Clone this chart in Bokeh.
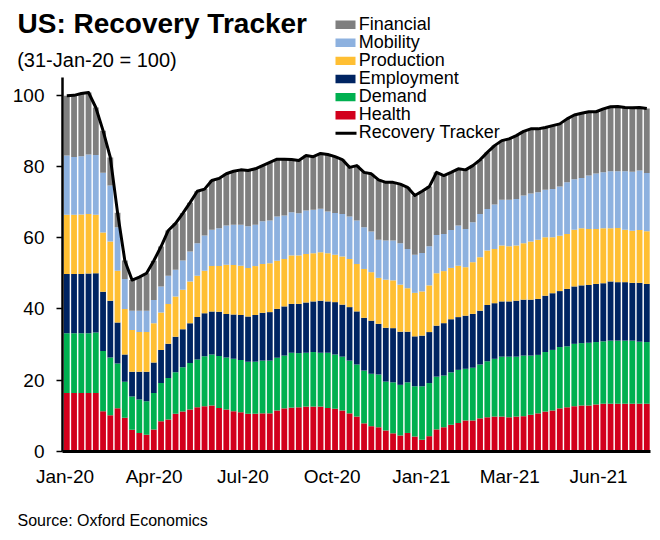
from bokeh.plotting import figure
from bokeh.models import ColumnDataSource, Label, BoxAnnotation, FixedTicker, Range1d
from bokeh.embed import file_html
from bokeh.resources import INLINE

health = [16.4, 16.4, 16.4, 16.4, 16.4, 11.3, 10.2, 12.1, 9.5, 6.1, 5.2, 4.7, 6.2, 8.5, 9.0, 10.6, 11.2, 11.8, 12.4, 12.7,
          12.9, 12.2, 11.8, 11.3, 11.0, 10.6, 10.6, 10.7, 10.7, 11.5, 12.1, 12.3, 12.4, 12.6, 12.6, 12.6, 12.2, 12.0, 11.5, 10.7,
          9.8, 7.9, 7.1, 6.8, 5.9, 5.1, 4.5, 5.2, 4.2, 3.3, 4.3, 6.2, 6.8, 7.5, 8.0, 8.7, 8.7, 9.3, 9.6, 9.8,
          9.8, 9.6, 9.8, 9.9, 10.3, 10.7, 11.2, 11.5, 12.1, 12.4, 12.7, 12.9, 12.9, 13.2, 13.4, 13.4, 13.4, 13.4, 13.4, 13.4, 13.4]
demand = [16.8, 16.8, 16.8, 16.8, 17.0, 16.9, 16.2, 12.6, 10.1, 9.3, 9.4, 9.4, 10.2, 10.7, 11.6, 11.6, 12.4, 13.0, 13.4, 14.0,
          14.3, 14.6, 14.6, 14.7, 14.7, 14.6, 14.6, 14.8, 14.8, 14.8, 14.8, 15.4, 15.2, 15.1, 15.3, 15.1, 15.5, 15.2, 15.1, 14.8,
          14.6, 14.8, 14.7, 14.8, 13.7, 14.3, 14.2, 14.2, 14.1, 15.0, 14.9, 14.8, 14.5, 14.7, 14.9, 14.5, 14.8, 15.1, 15.7, 16.2,
          16.8, 17.0, 16.8, 17.0, 16.6, 16.4, 16.7, 17.0, 17.2, 17.1, 17.5, 17.5, 17.6, 17.5, 17.5, 17.7, 17.7, 17.7, 17.7, 17.4, 17.3]
employment = [16.6, 16.6, 16.6, 16.7, 16.6, 16.6, 15.9, 11.5, 7.6, 7.0, 7.8, 8.3, 8.6, 9.3, 9.6, 10.0, 10.7, 11.2, 11.9, 12.1,
              12.1, 12.4, 12.2, 12.4, 12.6, 12.7, 13.1, 13.4, 13.6, 13.7, 13.8, 13.7, 13.8, 14.1, 14.2, 14.6, 14.4, 14.7, 14.6, 15.0,
              14.9, 14.8, 14.9, 14.2, 15.1, 15.2, 14.9, 14.2, 14.0, 14.2, 14.3, 14.3, 14.7, 14.9, 14.8, 14.9, 15.1, 15.1, 15.8, 15.6,
              15.5, 15.5, 15.7, 15.7, 15.7, 15.7, 15.8, 15.9, 15.7, 16.1, 16.1, 16.2, 16.2, 16.3, 16.3, 16.6, 16.4, 16.4, 16.2, 16.5, 16.3]
production = [16.6, 16.6, 16.7, 16.7, 16.4, 16.6, 16.6, 14.5, 12.8, 11.7, 11.1, 11.1, 11.0, 10.5, 11.2, 11.3, 11.1, 11.7, 11.6, 11.9,
              12.7, 12.8, 13.8, 13.9, 13.8, 13.6, 13.7, 13.7, 13.7, 13.5, 13.3, 13.6, 13.6, 13.6, 13.5, 13.6, 13.5, 13.3, 13.5, 13.5,
              13.3, 13.7, 13.6, 12.9, 13.5, 13.4, 13.2, 12.2, 12.2, 12.4, 13.1, 14.7, 14.6, 14.4, 14.4, 13.6, 14.5, 15.0, 15.3, 15.2,
              15.7, 15.5, 15.5, 15.8, 16.3, 16.6, 16.4, 15.7, 15.5, 15.4, 15.9, 16.0, 15.7, 15.4, 15.4, 14.9, 15.2, 14.7, 14.6, 14.8, 14.8]
mobility = [16.6, 16.2, 16.3, 16.7, 16.8, 16.8, 15.7, 12.2, 8.4, 5.4, 6.0, 6.0, 6.5, 7.3, 7.9, 7.5, 8.2, 8.4, 9.1, 9.9,
            10.2, 10.6, 11.0, 11.3, 11.5, 11.7, 11.6, 12.0, 12.0, 12.4, 12.2, 12.1, 11.8, 12.2, 12.2, 12.2, 11.7, 11.7, 11.9, 11.9,
            12.2, 11.7, 11.4, 10.7, 11.0, 11.2, 11.6, 11.0, 10.7, 10.8, 11.0, 10.7, 10.4, 10.6, 11.3, 10.7, 11.2, 12.1, 11.6, 12.5,
            12.8, 13.0, 13.0, 13.4, 13.5, 13.3, 13.3, 13.5, 13.8, 14.5, 14.2, 14.1, 15.0, 15.6, 15.7, 16.0, 15.9, 16.4, 16.6, 16.7, 16.3]
financial = [16.8, 17.3, 17.6, 17.4, 13.3, 11.8, 7.9, 4.1, 5.2, 8.6, 9.4, 10.5, 11.0, 11.2, 12.7, 13.0, 13.2, 13.7, 14.6, 13.0,
             13.8, 14.0, 14.5, 15.0, 15.4, 15.6, 15.7, 15.6, 16.3, 16.1, 15.8, 14.8, 14.8, 15.4, 14.9, 15.5, 16.0, 15.8, 15.3, 13.8,
             15.4, 15.4, 16.2, 16.8, 16.3, 16.3, 16.6, 17.3, 16.6, 17.3, 16.7, 17.6, 16.4, 16.2, 15.9, 16.6, 15.9, 15.2, 15.9, 16.5,
             16.6, 17.1, 17.8, 18.0, 18.1, 17.8, 17.5, 17.8, 17.6, 17.8, 18.0, 18.2, 17.9, 17.3, 17.8, 18.1, 18.2, 17.9, 17.9, 17.7, 18.1]
tracker = [99.8, 99.9, 100.4, 100.7, 96.5, 90.0, 82.5, 67.0, 53.6, 48.1, 48.9, 50.0, 53.5, 57.5, 62.0, 64.0, 66.8, 69.8, 73.0, 73.6,
           76.0, 76.6, 77.9, 78.6, 79.0, 78.8, 79.3, 80.2, 81.1, 82.0, 82.0, 81.9, 81.6, 83.0, 82.7, 83.6, 83.3, 82.7, 81.9, 79.7,
           80.2, 78.3, 77.9, 76.2, 75.5, 75.5, 75.0, 74.1, 71.8, 73.0, 74.3, 78.3, 77.4, 78.3, 79.3, 79.0, 80.2, 81.8, 83.9, 85.8,
           87.2, 87.7, 88.6, 89.8, 90.5, 90.5, 90.9, 91.4, 91.9, 93.3, 94.4, 94.9, 95.3, 95.3, 96.1, 96.7, 96.8, 96.5, 96.4, 96.5, 96.2]

series_names = ["Health", "Demand", "Employment", "Production", "Mobility", "Financial"]
series_colors = ["#D2001C", "#00B050", "#002462", "#FFBF33", "#8DB1DF", "#7F7F7F"]
tick_pos = [-0.25, 12.05, 24.3, 36.6, 48.9, 61.1, 73.35]
tick_labels = ["Jan-20", "Apr-20", "Jul-20", "Oct-20", "Jan-21", "Mar-21", "Jun-21"]
y_ticks = [0, 20, 40, 60, 80, 100]

FONT = "Liberation Sans"
W, H = 652, 532
# page-pixel geometry of the plotting area
X0PX, DXPX = 66.3, 7.25        # centre of first bar, bar pitch
Y0PX, DYPX = 451.0, 3.565      # y of value 0, pixels per unit
AXL_PX, AXR_PX = 62.0, 650.0   # x-axis line extent

def px_to_x(px):
    return (px - X0PX) / DXPX

def px_to_y(py):
    return (Y0PX - py) / DYPX

x = list(range(len(health)))
src = ColumnDataSource(dict(x=x, Health=health, Demand=demand, Employment=employment,
                            Production=production, Mobility=mobility, Financial=financial,
                            Tracker=tracker))

p = figure(width=W, height=H, output_backend="svg", toolbar_location=None,
           x_range=Range1d(px_to_x(0), px_to_x(W)), y_range=Range1d(px_to_y(H), px_to_y(0)),
           min_border=0, min_border_left=0, min_border_right=0, min_border_top=0, min_border_bottom=0)
p.outline_line_color = None
p.xgrid.visible = False
p.ygrid.visible = False
p.background_fill_color = "white"
p.border_fill_color = "white"

p.vbar_stack(series_names, x="x", width=0.8, fill_color=series_colors, line_color=None, source=src)
p.line("x", "Tracker", source=src, line_color="black", line_width=3, line_join="round")

ya = p.yaxis[0]
ya.fixed_location = px_to_x(AXL_PX)
ya.bounds = (0, 105)
ya.ticker = FixedTicker(ticks=y_ticks)
ya.axis_line_width = 2.5
ya.axis_line_color = "black"
ya.major_tick_out = 6
ya.major_tick_in = 0
ya.major_tick_line_width = 1.5
ya.minor_tick_line_color = None
ya.major_label_text_font = FONT
ya.major_label_text_font_size = "19px"
ya.major_label_text_color = "black"
ya.major_label_standoff = 12

xa = p.xaxis[0]
xa.fixed_location = 0
xa.bounds = (px_to_x(AXL_PX), px_to_x(AXR_PX))
xa.ticker = FixedTicker(ticks=tick_pos)
xa.major_label_overrides = {t: l for t, l in zip(tick_pos, tick_labels)}
xa.axis_line_width = 3
xa.axis_line_color = "black"
xa.major_tick_line_color = None
xa.minor_tick_line_color = None
xa.major_label_text_font = FONT
xa.major_label_text_font_size = "19px"
xa.major_label_text_color = "black"
xa.major_label_standoff = 8


def add_label(text, px, py, size, bold=False):
    # py is the intended page baseline; Bokeh's text box sits lower, correct for it
    adj = 0.38 * size
    p.add_layout(Label(x=px, y=H - (py - adj), x_units="screen", y_units="screen", text=text,
                       text_font=FONT, text_font_size=f"{size}px", text_color="black",
                       text_font_style="bold" if bold else "normal",
                       text_baseline="alphabetic", text_align="left"))


def add_box(l, r, t, b, color):
    p.add_layout(BoxAnnotation(left=l, right=r, top=H - t, bottom=H - b,
                               left_units="screen", right_units="screen", top_units="screen", bottom_units="screen",
                               fill_color=color, fill_alpha=1.0, line_color=None, level="overlay"))


add_label("US: Recovery Tracker", 17, 33.3, 28, bold=True)
add_label("(31-Jan-20 = 100)", 16.7, 66.7, 20)
add_label("Source: Oxford Economics", 17, 526.5, 16)

legend_order = ["Financial", "Mobility", "Production", "Employment", "Demand", "Health"]
cmap = dict(zip(series_names, series_colors))
row0 = 24.2
step = 18.1
for i, name in enumerate(legend_order):
    cy = row0 + i * step
    add_box(335, 355, cy - 4.2, cy + 4.2, cmap[name])
    add_label(name, 358.3, cy + 6, 18)
cy = row0 + 6 * step
add_box(335, 356, cy - 1.5, cy + 1.5, "black")
add_label("Recovery Tracker", 358.3, cy + 6, 18)

open("out.html", "w").write(file_html(p, INLINE))
